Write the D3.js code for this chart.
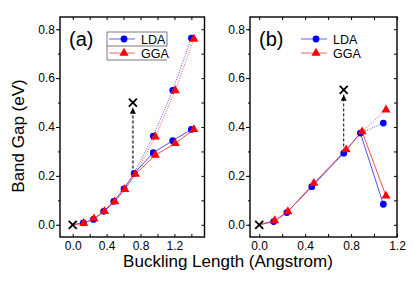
<!DOCTYPE html>
<html>
<head>
<meta charset="utf-8">
<script src="https://cdn.jsdelivr.net/npm/d3@7"></script>
<style>
  body { margin: 0; background: #fff; }
  svg { font-family: "Liberation Sans", Arial, sans-serif; }
</style>
</head>
<body>
<div id="chart"></div>
<script>
// values: [buckling length, band gap]
var yTicks = [0, 0.2, 0.4, 0.6, 0.8];
var xTicks = [0, 0.4, 0.8, 1.2];

// panel (a)
var aLDA = [[0, 0], [0.125, 0.008], [0.245, 0.022], [0.365, 0.055], [0.485, 0.096],
            [0.605, 0.147], [0.725, 0.21], [0.95, 0.295], [1.18, 0.344], [1.40, 0.39]];
var aLDAUp = [[0.725, 0.21], [0.95, 0.363], [1.18, 0.55], [1.40, 0.764]];
var aGGA = [[0, 0], [0.13, 0.006], [0.25, 0.025], [0.375, 0.055], [0.495, 0.095],
            [0.615, 0.145], [0.74, 0.207], [0.975, 0.285], [1.21, 0.333], [1.43, 0.39]];
var aGGAUp = [[0.74, 0.207], [0.975, 0.36], [1.21, 0.549], [1.43, 0.76]];
var aCross = [[0, 0], [0.71, 0.5]];
var aArrow = [[0.71, 0.21], [0.71, 0.479]];

// panel (b)
var bLDA = [[0, 0], [0.126, 0.013], [0.241, 0.05], [0.458, 0.156], [0.736, 0.293],
            [0.881, 0.375], [1.081, 0.084]];
var bLDAUp = [[0.881, 0.375], [1.081, 0.416]];
var bGGA = [[0, 0], [0.135, 0.017], [0.25, 0.054], [0.476, 0.17], [0.757, 0.307],
            [0.896, 0.381], [1.104, 0.118]];
var bGGAUp = [[0.896, 0.381], [1.104, 0.47]];
var bCross = [[0, 0], [0.736, 0.552]];
var bArrow = [[0.736, 0.30], [0.736, 0.532]];

var BLUE = '#0000ff', RED = '#ff0000';
var BLUE_LINE = '#3a3aff', RED_LINE = '#ff3a3a';

var svg = d3.select('#chart').append('svg')
    .attr('width', 415)
    .attr('height', 294);

var defs = svg.append('defs');
defs.append('marker')
    .attr('id', 'head')
    .attr('viewBox', '0 0 10 10')
    .attr('refX', 10).attr('refY', 5)
    .attr('markerUnits', 'userSpaceOnUse')
    .attr('markerWidth', 7).attr('markerHeight', 6)
    .attr('orient', 'auto')
  .append('path')
    .attr('d', 'M0,0L10,5L0,10z')
    .attr('fill', '#000');

function drawPanel(p) {
    var x = d3.scaleLinear().domain(p.xDomain).range([p.left, p.right]);
    var y = d3.scaleLinear().domain([-0.05, 0.85]).range([237, 17]);
    var g = svg.append('g');

    // ticks: left out, bottom/top/right in
    var xMinor = d3.range(0, p.xDomain[1] + 1e-9, 0.2);
    var yMinor = d3.range(0, 0.85, 0.1);
    g.append('g').attr('transform', 'translate(0,237)')
        .call(d3.axisBottom(x).tickValues(xMinor).tickSize(-3).tickFormat(''));
    g.append('g').attr('transform', 'translate(0,237)')
        .call(d3.axisBottom(x).tickValues(xTicks).tickSize(0).tickPadding(4).tickFormat(d3.format('.1f')));
    g.append('g').attr('transform', 'translate(0,17)')
        .call(d3.axisBottom(x).tickValues(xMinor).tickSize(3).tickFormat(''));
    g.append('g').attr('transform', 'translate(' + p.left + ',0)')
        .call(d3.axisLeft(y).tickValues(yMinor).tickSize(2).tickFormat(''));
    g.append('g').attr('transform', 'translate(' + p.left + ',0)')
        .call(d3.axisLeft(y).tickValues(yTicks).tickSize(4).tickPadding(1).tickFormat(d3.format('.1f')));
    g.append('g').attr('transform', 'translate(' + p.right + ',0)')
        .call(d3.axisLeft(y).tickValues(yMinor).tickSize(3).tickFormat(''));
    g.selectAll('.domain').remove();
    g.selectAll('.tick line').attr('stroke', '#000');
    g.selectAll('.tick text').attr('font-size', 12).attr('fill', '#000');

    g.append('rect')
        .attr('x', p.left).attr('y', 17)
        .attr('width', p.right - p.left).attr('height', 220)
        .attr('fill', 'none').attr('stroke', '#000').attr('stroke-width', 1.4);

    var line = d3.line().x(d => x(d[0])).y(d => y(d[1]));

    // arrow
    g.append('path')
        .attr('d', line(p.arrow))
        .attr('stroke', p.arrowColor)
        .attr('stroke-width', p.arrowWidth)
        .attr('stroke-dasharray', '3,2')
        .attr('fill', 'none')
        .attr('marker-end', 'url(#head)');

    var series = [
        { main: p.lda, up: p.ldaUp, color: BLUE, lc: BLUE_LINE, sym: d3.symbolCircle, size: 36 },
        { main: p.gga, up: p.ggaUp, color: RED, lc: RED_LINE, sym: d3.symbolTriangle, size: 36 }
    ];
    series.forEach(function(s) {
        g.append('path').attr('d', line(s.main))
            .attr('stroke', s.lc).attr('stroke-width', 0.9).attr('fill', 'none');
        g.append('path').attr('d', line(s.up))
            .attr('stroke', s.lc).attr('stroke-width', 0.9)
            .attr('stroke-dasharray', '1,1.5').attr('fill', 'none');
    });
    series.forEach(function(s) {
        var pts = s.main.slice(1).concat(s.up.slice(1));
        g.selectAll(null).data(pts).enter().append('path')
            .attr('transform', d => 'translate(' + x(d[0]) + ',' + y(d[1]) + ')')
            .attr('d', d3.symbol(s.sym).size(s.size))
            .attr('fill', s.color);
    });

    // crosses
    g.selectAll(null).data(p.cross).enter().append('path')
        .attr('transform', d => 'translate(' + x(d[0]) + ',' + y(d[1]) + ')')
        .attr('d', 'M-4,-4L4,4M-4,4L4,-4')
        .attr('stroke', '#000').attr('stroke-width', 1.8);

    g.append('text')
        .attr('x', p.left + 9).attr('y', 46)
        .attr('font-size', 20)
        .text(p.label);

    // legend
    var lg = g.append('g');
    var names = ['LDA', 'GGA'];
    series.forEach(function(s, i) {
        var ly = 39 + i * 14;
        lg.append('line')
            .attr('x1', p.legX).attr('x2', p.legX + 26)
            .attr('y1', ly).attr('y2', ly)
            .attr('stroke', s.lc).attr('stroke-width', 0.8);
        lg.append('path')
            .attr('transform', 'translate(' + (p.legX + 15) + ',' + ly + ')')
            .attr('d', d3.symbol(s.sym).size(s.size))
            .attr('fill', s.color);
        lg.append('text')
            .attr('x', p.legX + 32).attr('y', ly + 4.5)
            .attr('font-size', 12.5)
            .text(names[i]);
    });
    if (p.legBox) {
        var bx = p.legX - 2, bw = 60;
        lg.append('path')
            .attr('d', 'M' + (bx + bw) + ',32V46H' + bx + 'M' + bx + ',32H' + (bx + bw) +
                'M' + bx + ',32V60H' + (bx + bw))
            .attr('stroke', '#555').attr('stroke-width', 0.8).attr('fill', 'none');
    }
}

drawPanel({ xDomain: [-0.15, 1.555], left: 60, right: 204.5, label: '(a)',
    lda: aLDA, ldaUp: aLDAUp, gga: aGGA, ggaUp: aGGAUp, cross: aCross,
    arrow: aArrow, arrowColor: '#666', arrowWidth: 2, legX: 109, legBox: true });
drawPanel({ xDomain: [-0.08, 1.2], left: 250, right: 397, label: '(b)',
    lda: bLDA, ldaUp: bLDAUp, gga: bGGA, ggaUp: bGGAUp, cross: bCross,
    arrow: bArrow, arrowColor: '#000', arrowWidth: 1, legX: 301, legBox: false });

svg.append('text')
    .attr('x', 228).attr('y', 267)
    .attr('text-anchor', 'middle')
    .attr('font-size', 17)
    .text('Buckling Length (Angstrom)');

svg.append('text')
    .attr('transform', 'translate(23.5,136) rotate(-90)')
    .attr('text-anchor', 'middle')
    .attr('font-size', 17)
    .text('Band Gap (eV)');
</script>
</body>
</html>
